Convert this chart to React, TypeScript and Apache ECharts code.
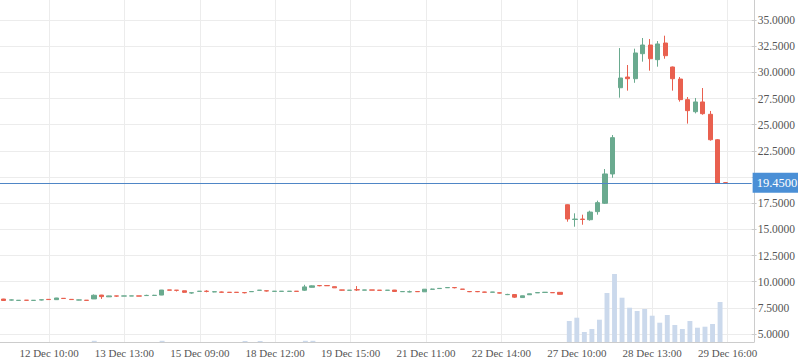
import React, { useEffect, useRef } from "react";
import * as echarts from "echarts";

// Category labels (one per candle slot; last three slots are empty)
const categories: string[] = [
  "11 Dec 19:00", "11 Dec 22:00", "12 Dec 01:00", "12 Dec 04:00", "12 Dec 06:00", "12 Dec 08:00",
  "12 Dec 10:00", "12 Dec 13:00", "12 Dec 16:00", "12 Dec 19:00", "12 Dec 22:00", "13 Dec 01:00",
  "13 Dec 04:00", "13 Dec 07:00", "13 Dec 09:00", "13 Dec 11:00", "13 Dec 13:00", "13 Dec 16:00",
  "13 Dec 19:00", "13 Dec 22:00", "14 Dec 01:00", "14 Dec 09:00", "14 Dec 17:00", "15 Dec 00:00",
  "15 Dec 03:00", "15 Dec 06:00", "15 Dec 09:00", "15 Dec 16:00", "15 Dec 23:00", "16 Dec 06:00",
  "16 Dec 13:00", "16 Dec 20:00", "17 Dec 04:00", "17 Dec 12:00", "17 Dec 20:00", "18 Dec 04:00",
  "18 Dec 12:00", "18 Dec 15:00", "18 Dec 18:00", "18 Dec 21:00", "19 Dec 00:00", "19 Dec 03:00",
  "19 Dec 06:00", "19 Dec 09:00", "19 Dec 11:00", "19 Dec 13:00", "19 Dec 15:00", "19 Dec 19:00",
  "19 Dec 23:00", "20 Dec 03:00", "20 Dec 08:00", "20 Dec 13:00", "20 Dec 18:00", "20 Dec 23:00",
  "21 Dec 03:00", "21 Dec 07:00", "21 Dec 11:00", "21 Dec 14:00", "21 Dec 17:00", "21 Dec 20:00",
  "21 Dec 23:00", "22 Dec 02:00", "22 Dec 05:00", "22 Dec 08:00", "22 Dec 10:00", "22 Dec 12:00",
  "22 Dec 14:00", "22 Dec 17:00", "22 Dec 20:00", "22 Dec 23:00", "23 Dec 02:00", "23 Dec 05:00",
  "23 Dec 08:00", "23 Dec 11:00", "23 Dec 14:00", "27 Dec 07:00", "27 Dec 10:00", "27 Dec 13:00",
  "27 Dec 16:00", "27 Dec 19:00", "27 Dec 22:00", "28 Dec 01:00", "28 Dec 04:00", "28 Dec 07:00",
  "28 Dec 09:00", "28 Dec 11:00", "28 Dec 13:00", "28 Dec 16:00", "28 Dec 19:00", "28 Dec 22:00",
  "29 Dec 01:00", "29 Dec 04:00", "29 Dec 07:00", "29 Dec 10:00", "29 Dec 12:00", "29 Dec 14:00",
  "29 Dec 16:00", "29 Dec 19:00", "29 Dec 22:00", "30 Dec 01:00",
];

// [open, close, low, high]
const candles: number[][] = [
  [8.34, 8.20, 8.18, 8.36], [8.24, 8.26, 8.20, 8.30], [8.21, 8.22, 8.21, 8.23], [8.23, 8.22, 8.21, 8.23],
  [8.21, 8.22, 8.21, 8.23], [8.25, 8.27, 8.21, 8.30], [8.31, 8.29, 8.27, 8.33], [8.28, 8.44, 8.27, 8.45],
  [8.41, 8.39, 8.38, 8.42], [8.31, 8.29, 8.29, 8.31], [8.24, 8.26, 8.22, 8.29], [8.23, 8.21, 8.21, 8.23],
  [8.35, 8.70, 8.34, 8.78], [8.72, 8.57, 8.35, 8.74], [8.55, 8.64, 8.54, 8.66], [8.64, 8.62, 8.55, 8.65],
  [8.62, 8.64, 8.62, 8.65], [8.63, 8.64, 8.63, 8.65], [8.64, 8.62, 8.62, 8.64], [8.67, 8.69, 8.66, 8.75],
  [8.68, 8.70, 8.67, 8.74], [8.72, 9.20, 8.71, 9.21], [9.21, 9.19, 9.18, 9.22], [9.19, 9.17, 9.06, 9.20],
  [9.13, 8.98, 8.93, 9.14], [8.92, 8.94, 8.85, 8.96], [9.07, 9.09, 9.07, 9.10], [9.09, 9.07, 8.98, 9.18],
  [9.02, 9.04, 8.99, 9.08], [9.01, 8.99, 8.95, 9.05], [8.99, 8.97, 8.97, 8.99], [8.99, 8.97, 8.97, 8.99],
  [8.96, 8.94, 8.88, 8.97], [9.04, 9.06, 9.02, 9.10], [9.17, 9.19, 9.17, 9.20], [9.13, 9.11, 9.06, 9.16],
  [9.07, 9.09, 9.07, 9.10], [9.07, 9.09, 9.07, 9.10], [9.07, 9.09, 9.07, 9.10], [9.09, 9.07, 9.07, 9.09],
  [9.18, 9.50, 9.12, 9.70], [9.46, 9.60, 9.44, 9.64], [9.63, 9.61, 9.56, 9.68], [9.63, 9.61, 9.60, 9.64],
  [9.52, 9.41, 9.41, 9.53], [9.21, 9.19, 9.16, 9.22], [9.17, 9.19, 9.17, 9.20], [9.23, 9.21, 9.11, 9.58],
  [9.19, 9.21, 9.19, 9.22], [9.21, 9.19, 9.19, 9.21], [9.19, 9.17, 9.17, 9.19], [9.17, 9.19, 9.17, 9.20],
  [9.20, 9.06, 9.05, 9.21], [9.04, 9.06, 9.04, 9.07], [9.02, 9.04, 8.98, 9.15], [9.06, 9.04, 9.04, 9.06],
  [9.03, 9.28, 9.02, 9.29], [9.27, 9.29, 9.25, 9.33], [9.34, 9.36, 9.34, 9.37], [9.42, 9.44, 9.40, 9.47],
  [9.44, 9.42, 9.36, 9.45], [9.29, 9.27, 9.22, 9.30], [9.06, 9.04, 9.00, 9.07], [9.06, 9.04, 9.00, 9.07],
  [9.01, 8.99, 8.97, 9.03], [8.99, 9.01, 8.99, 9.02], [8.93, 8.91, 8.88, 8.95], [8.76, 8.78, 8.72, 8.84],
  [8.77, 8.52, 8.45, 8.78], [8.48, 8.65, 8.47, 8.66], [8.75, 8.84, 8.74, 8.85], [8.93, 8.96, 8.93, 8.97],
  [8.97, 8.99, 8.97, 9.00], [8.96, 8.94, 8.94, 8.96], [8.98, 8.79, 8.78, 8.99],
  [17.35, 15.99, 15.73, 17.38], [15.94, 15.98, 15.25, 16.53], [15.98, 15.94, 15.44, 16.40],
  [15.92, 16.65, 15.83, 16.78], [16.69, 17.55, 16.40, 17.74], [17.49, 20.29, 17.42, 20.76],
  [20.29, 23.76, 19.93, 24.01], [28.53, 29.46, 27.58, 32.32], [29.55, 29.39, 28.25, 30.70],
  [29.39, 31.85, 29.00, 32.26], [31.78, 32.61, 31.02, 33.28], [32.61, 31.30, 30.16, 33.18],
  [31.21, 32.71, 30.54, 32.99], [32.80, 31.59, 31.30, 33.50], [30.51, 29.39, 28.25, 30.55],
  [29.36, 27.39, 27.20, 29.55], [27.39, 26.34, 25.10, 27.64], [26.24, 27.17, 26.08, 27.55],
  [27.17, 26.05, 25.95, 28.50], [25.99, 23.56, 23.47, 26.31], [23.56, 19.42, 19.40, 23.63],
  [19.46, 19.45, 19.44, 19.47],
];

const volumes: number[] = [
  0, 0, 0, 0, 0, 0, 0, 0, 0, 0, 0, 0, 120, 0, 0, 0, 0, 0, 0, 0,
  0, 120, 0, 0, 0, 0, 0, 0, 0, 0, 0, 0, 100, 0, 100, 0, 0, 0, 0, 0,
  120, 120, 0, 0, 0, 0, 0, 0, 0, 0, 0, 0, 0, 0, 0, 0, 0, 0, 0, 0,
  0, 0, 0, 0, 0, 0, 0, 0, 0, 0, 0, 0, 0, 0, 0,
  2100, 2430, 1000, 1300, 2230, 4900, 6800, 4430, 3430, 3100, 3300,
  2630, 1930, 2700, 1700, 1300, 2100, 1430, 1530, 1800, 4000, 0,
];

const lastPrice = 19.45;
const priceMin = 5;
const priceMax = 35;
const priceStep = 2.5;
const hiddenPriceLabel = 20; // covered by the last-price badge
const volumeAxisMax = 34200;

const UP = "#6aaa8f";
const DOWN = "#e9604f";
const FONT = "Liberation Serif";
const TEXT = "#555";
const GRIDLINE = "#ececec";

const isLabelled = (i: number) => i % 10 === 6;

export default function App() {
  const ref = useRef<HTMLDivElement>(null);
  useEffect(() => {
    if (!ref.current) return;
    const chart = echarts.init(ref.current, undefined, { renderer: "svg" });
    chart.setOption({
      animation: false,
      grid: [
        { left: 0, right: 44, top: 20, bottom: 29 },
        { left: 0, right: 44, top: 0, bottom: 21 },
      ],
      xAxis: [
        { type: "category", gridIndex: 0, data: categories, show: false, boundaryGap: true },
        {
          type: "category",
          gridIndex: 1,
          data: categories,
          boundaryGap: true,
          axisLine: { lineStyle: { color: "#ccc" } },
          axisTick: { alignWithLabel: true, interval: isLabelled, length: 4, lineStyle: { color: "#ccc" } },
          axisLabel: {
            interval: isLabelled,
            color: TEXT,
            fontFamily: FONT,
            fontSize: 11,
            margin: 5,
          },
          splitLine: {
            show: true,
            alignWithLabel: true,
            interval: isLabelled,
            lineStyle: { color: GRIDLINE },
          },
        },
      ],
      yAxis: [
        {
          type: "value",
          gridIndex: 0,
          position: "right",
          min: priceMin,
          max: priceMax,
          interval: priceStep,
          axisLine: { show: false },
          axisTick: { show: true, length: 5, lineStyle: { color: "#ccc" } },
          axisLabel: {
            color: TEXT,
            fontFamily: FONT,
            fontSize: 11.5,
            margin: 6,
            formatter: (v: number) => (Math.abs(v - hiddenPriceLabel) < 1e-9 ? "" : v.toFixed(4)),
          },
          splitLine: { show: true, lineStyle: { color: GRIDLINE } },
        },
        {
          type: "value",
          gridIndex: 1,
          position: "right",
          min: 0,
          max: volumeAxisMax,
          axisLine: { show: true, lineStyle: { color: "#ccc" } },
          axisTick: { show: false },
          axisLabel: { show: false },
          splitLine: { show: false },
        },
      ],
      series: [
        {
          type: "bar",
          xAxisIndex: 1,
          yAxisIndex: 1,
          data: volumes,
          barWidth: "65%",
          itemStyle: { color: "#cbd9ec" },
          z: 1,
        },
        {
          type: "candlestick",
          xAxisIndex: 0,
          yAxisIndex: 0,
          data: candles,
          barWidth: "62%",
          itemStyle: {
            color: UP,
            color0: DOWN,
            borderColor: UP,
            borderColor0: DOWN,
            borderWidth: 1,
          },
          z: 3,
          markLine: {
            silent: true,
            symbol: "none",
            lineStyle: { color: "#4f86c6", width: 1, type: "solid" },
            label: {
              show: true,
              position: "end",
              distance: 1,
              formatter: () => lastPrice.toFixed(4),
              color: "#fff",
              backgroundColor: "#4a8fd6",
              padding: [4, 4, 3, 4],
              fontFamily: FONT,
              fontSize: 12.5,
            },
            data: [{ yAxis: lastPrice }],
          },
        },
      ],
    });
    return () => chart.dispose();
  }, []);
  return (
    <div
      ref={ref}
      style={{ position: "absolute", left: 0, top: 0, width: 798, height: 363 }}
    />
  );
}
